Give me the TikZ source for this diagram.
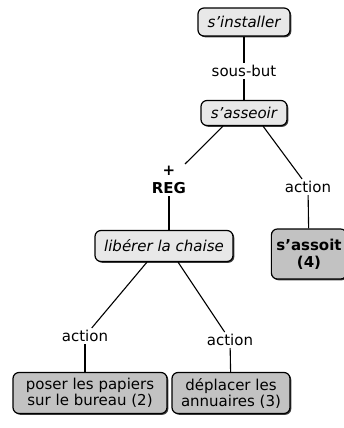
\documentclass[tikz,border=0pt]{standalone}
\usepackage{fontspec}
\setmainfont{DejaVu Sans}
\usetikzlibrary{positioning, shadows}

\begin{document}
\begin{tikzpicture}[
            x=1pt, y=1pt,
            goal/.style = {align=center, inner xsep=5pt, inner ysep=4pt, rounded corners=6pt,
                    draw=black, line width=1.2pt, fill=gray!18, minimum height=28pt,
                    font=\itshape\fontsize{15}{16}\selectfont,
                    drop shadow={shadow xshift=1.3pt, shadow yshift=-1.3pt, fill=black!75, opacity=1}},
            act/.style = {goal, fill=gray!48, font=\fontsize{15}{16}\selectfont},
            lbl/.style = {inner sep=2pt, align=center, font=\fontsize{15}{16}\selectfont},
            link/.style = {line width=1.1pt}
        ]
        \useasboundingbox (0,0) rectangle (343,-428);
        \node (inst)      [goal, minimum width=92pt] at (244,-22) {s'installer};
        \node (sousbut)   [lbl] at (244,-71) {sous-but};
        \node (asseoir)   [goal, minimum width=86pt, minimum height=25pt] at (244,-113) {s'asseoir};
        \node (reg)       [lbl, font=\bfseries\fontsize{15}{18}\selectfont] at (169,-180) {+\\REG};
        \node (actR)      [lbl] at (308,-187) {action};
        \node (liberer)   [goal, minimum width=138pt, minimum height=31pt] at (164,-246) {libérer la chaise};
        \node (assoit)    [act, font=\bfseries\fontsize{15}{17}\selectfont, minimum width=72pt, minimum height=50pt] at (309,-254) {s'assoit\\(4)};
        \node (actL)      [lbl] at (85,-336) {action};
        \node (actM)      [lbl] at (230,-340) {action};
        \node (papiers)   [act, minimum width=154pt, minimum height=41pt] at (90,-393) {poser les papiers\\sur le bureau (2)};
        \node (annuaires) [act, minimum width=118pt, minimum height=41pt] at (231,-393) {déplacer les\\annuaires (3)};

        \draw [link] (inst) -- (sousbut);
        \draw [link] (sousbut) -- (asseoir);
        \draw [link] ([xshift=-21pt]asseoir.south) -- (reg);
        \draw [link] ([xshift=19pt]asseoir.south) -- (actR);
        \draw [link] (reg) -- (reg |- liberer.north);
        \draw [link] (actR) -- (assoit);
        \draw [link] ([xshift=-17pt]liberer.south) -- (actL);
        \draw [link] ([xshift=14pt]liberer.south) -- (actM);
        \draw [link] (actL) -- (actL |- papiers.north);
        \draw [link] (actM) -- (annuaires);
    \end{tikzpicture}
\end{document}
